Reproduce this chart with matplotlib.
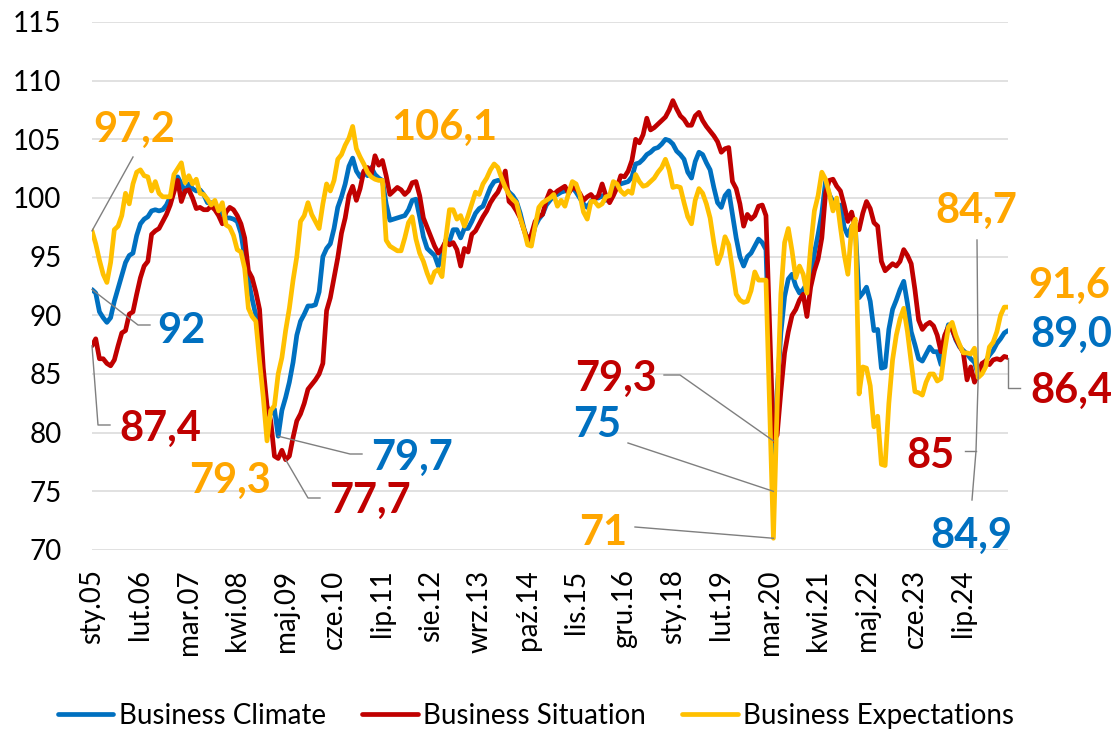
import matplotlib
matplotlib.use("Agg")
import matplotlib.pyplot as plt
from matplotlib.transforms import IdentityTransform
from matplotlib.lines import Line2D

plt.rcParams['font.family'] = ['Lato', 'DejaVu Sans']

# ---------------- data (monthly, Jan 2005 .. Jul 2025) ----------------
climate = [
    92.2, 91.9, 90.3, 89.8, 89.4, 89.8, 91.2, 92.3, 93.4, 94.5,
    95.1, 95.3, 96.8, 97.8, 98.2, 98.4, 98.9, 99.0, 98.9, 99.0,
    99.4, 100.1, 100.8, 101.8, 101.2, 100.5, 101.2, 100.8, 100.6, 100.7,
    100.3, 99.6, 99.6, 99.3, 98.9, 98.6, 98.3, 98.3, 98.2, 98.0,
    97.0, 95.0, 93.0, 91.4, 90.0, 87.0, 84.5, 82.0, 81.6, 82.0,
    79.7, 81.9, 83.0, 84.3, 86.0, 88.3, 89.5, 90.1, 90.8, 90.8,
    90.9, 92.0, 95.0, 95.7, 96.1, 97.4, 99.2, 100.1, 101.2, 102.7,
    103.4, 102.3, 101.8, 102.2, 101.9, 102.6, 102.0, 101.7, 101.5, 99.5,
    98.1, 98.2, 98.3, 98.4, 98.5, 99.0, 99.8, 99.9, 98.4, 96.7,
    95.7, 95.4, 95.1, 94.2, 95.2, 96.4, 96.3, 97.3, 97.3, 96.6,
    97.4, 97.4, 98.0, 98.7, 99.1, 99.3, 100.1, 100.9, 101.4, 101.5,
    101.5, 101.0, 100.5, 100.2, 99.7, 98.7, 97.4, 96.4, 96.3, 97.6,
    98.2, 98.6, 99.4, 99.8, 100.2, 100.3, 100.5, 100.6, 100.6, 100.9,
    100.5, 100.0, 99.5, 99.2, 99.7, 100.0, 100.0, 100.2, 99.8, 100.2,
    100.7, 101.0, 101.2, 101.3, 101.4, 101.8, 102.9, 103.0, 103.3, 103.7,
    103.9, 104.2, 104.3, 104.6, 105.0, 104.9, 104.6, 104.0, 103.7, 103.3,
    102.2, 101.7, 103.1, 103.9, 103.7, 103.0, 102.4, 100.9, 99.6, 99.2,
    100.2, 100.6, 98.6, 96.6, 95.0, 94.2, 95.0, 95.3, 95.9, 96.5,
    96.2, 95.6, 85.5, 75.0, 83.5, 88.5, 91.6, 93.1, 93.5, 92.5,
    91.9, 92.2, 92.7, 93.2, 95.3, 96.9, 98.7, 101.4, 100.3, 99.7,
    99.2, 99.4, 97.5, 96.8, 97.6, 97.5, 91.5, 91.9, 92.4, 91.2,
    88.7, 88.8, 85.5, 85.6, 88.8, 90.5, 91.3, 92.2, 92.9, 91.0,
    88.6, 87.5, 86.3, 86.1, 86.7, 87.3, 86.9, 86.9, 85.8, 88.0,
    89.2, 88.8, 87.9, 87.3, 87.0, 86.7, 86.3, 86.0, 84.9, 85.4,
    86.1, 86.6, 87.0, 87.6, 88.0, 88.5, 88.7,
]

situation = [
    87.4, 88.0, 86.3, 86.3, 85.9, 85.7, 86.2, 87.4, 88.5, 88.7,
    90.1, 90.3, 91.8, 93.2, 94.2, 94.6, 96.9, 97.2, 97.4, 98.0,
    98.6, 99.4, 100.5, 101.5, 99.7, 100.6, 100.7, 100.0, 99.1, 99.2,
    99.0, 99.0, 99.3, 99.0, 98.5, 97.8, 98.8, 99.2, 99.0, 98.5,
    97.8, 96.6, 93.8, 93.2, 92.0, 90.5, 85.5, 82.3, 81.0, 78.0,
    77.8, 78.5, 77.7, 78.0, 79.6, 81.0, 81.6, 82.5, 83.7, 84.1,
    84.5, 85.0, 85.9, 90.4, 91.5, 93.2, 94.9, 97.0, 98.3, 100.2,
    101.0, 99.8, 100.8, 102.3, 102.6, 102.0, 103.6, 102.8, 103.2, 101.9,
    100.3, 100.6, 100.9, 100.7, 100.3, 100.6, 101.3, 101.4, 100.2, 98.3,
    97.5, 96.7, 95.9, 95.3, 95.7, 96.3, 96.0, 96.2, 95.6, 94.2,
    95.7, 95.4, 96.9, 97.2, 97.8, 98.4, 98.9, 99.6, 100.1, 100.5,
    101.2, 102.3, 99.7, 99.4, 98.9, 98.3, 97.3, 96.4, 96.9, 98.0,
    98.4, 98.6, 99.8, 100.6, 100.3, 100.6, 100.8, 101.0, 100.4, 100.9,
    100.8, 100.4, 99.8, 100.1, 100.3, 99.9, 100.2, 101.2, 100.2, 99.6,
    100.2, 100.9, 101.9, 101.8, 102.3, 103.2, 105.0, 104.7, 105.4, 106.8,
    105.8, 106.0, 106.3, 106.6, 106.9, 107.5, 108.3, 107.6, 107.0, 106.7,
    106.2, 106.2, 107.0, 107.3, 106.6, 106.1, 105.7, 105.3, 104.8, 103.9,
    104.2, 104.3, 101.4, 100.8, 99.5, 97.6, 98.6, 98.2, 98.5, 99.3,
    99.4, 98.5, 89.0, 79.3, 79.8, 83.5, 86.8, 88.6, 90.0, 90.5,
    91.3, 91.8, 89.9, 92.4, 93.8, 94.8, 96.6, 100.4, 101.5, 101.6,
    101.0, 100.6, 99.4, 98.0, 98.8, 97.4, 97.3, 98.7, 99.7, 99.1,
    97.9, 97.6, 94.6, 93.8, 94.1, 94.4, 94.2, 94.6, 95.6, 95.1,
    94.4, 92.2, 89.6, 88.8, 89.2, 89.4, 89.1, 88.3, 86.9, 88.3,
    89.0, 88.8, 88.0, 87.4, 86.8, 84.5, 85.6, 84.3, 85.0, 85.9,
    86.1, 85.8, 86.2, 86.3, 86.2, 86.5, 86.4,
]

expectations = [
    97.2, 96.1, 94.7, 93.5, 92.8, 94.5, 97.3, 97.6, 98.5, 100.4,
    99.5, 101.2, 102.2, 102.4, 101.9, 101.8, 100.6, 101.4, 100.4, 100.1,
    100.1, 100.1, 102.0, 102.5, 103.0, 101.3, 101.9, 101.2, 101.6, 100.4,
    100.3, 99.9, 99.4, 99.8, 98.9, 99.6, 97.7, 97.5, 96.8, 95.6,
    95.4, 94.0, 90.6, 89.9, 89.5, 86.1, 83.0, 79.3, 81.9, 82.3,
    85.0, 86.4, 88.7, 90.6, 93.0, 95.0, 98.0, 98.5, 99.6, 98.6,
    98.0, 97.4, 99.5, 101.2, 100.6, 101.5, 103.3, 103.7, 104.5, 105.1,
    106.1, 104.2, 103.5, 102.9, 102.2, 101.8, 101.6, 101.5, 101.5, 96.4,
    95.9, 95.7, 95.5, 95.5, 96.6, 97.9, 98.4, 96.5, 95.3, 94.6,
    93.6, 92.8, 93.7, 93.9, 93.3, 96.5, 99.0, 99.0, 98.2, 98.5,
    97.6, 98.5, 99.5, 100.5, 100.3, 101.2, 101.7, 102.4, 102.9, 102.6,
    101.7, 100.9, 100.3, 99.9, 99.6, 98.3, 97.3, 96.0, 95.9, 97.6,
    99.2, 99.6, 99.8, 100.0, 100.3, 99.3, 99.8, 99.3, 100.4, 101.4,
    101.2, 100.3, 98.8, 98.2, 99.7, 99.7, 99.3, 99.5, 100.1, 100.2,
    101.4, 101.2, 100.6, 100.3, 100.6, 100.4, 102.0, 101.4, 101.0, 101.1,
    101.4, 101.7, 102.2, 102.6, 103.3, 102.4, 100.9, 101.0, 100.9, 99.6,
    98.4, 97.8, 99.8, 100.8, 100.4, 99.5, 98.3, 96.2, 94.4, 95.2,
    96.7, 96.0, 93.9, 91.8, 91.3, 91.1, 91.2, 92.1, 93.7, 93.0,
    93.0, 93.0, 82.0, 71.0, 82.3, 91.8, 96.2, 97.4, 95.5, 93.2,
    94.2, 93.5, 91.9, 95.8, 98.9, 100.2, 102.2, 101.6, 100.4, 98.9,
    100.0, 97.5, 95.2, 93.5, 97.5, 98.2, 83.3, 85.6, 85.5, 84.0,
    80.5, 81.4, 77.3, 77.2, 82.5, 86.2, 88.3, 89.7, 90.6, 88.6,
    86.0, 83.5, 83.4, 83.2, 84.3, 85.0, 85.0, 84.4, 84.6, 87.0,
    89.0, 89.4, 88.3, 87.5, 86.8, 86.8, 86.7, 87.2, 84.7, 85.0,
    85.6, 87.3, 87.7, 88.6, 90.0, 90.7, 90.7,
]

tick_labels = ["sty.05", "lut.06", "mar.07", "kwi.08", "maj.09", "cze.10",
               "lip.11", "sie.12", "wrz.13", "paź.14", "lis.15", "gru.16",
               "sty.18", "lut.19", "mar.20", "kwi.21", "maj.22", "cze.23",
               "lip.24"]
series_names = ["Business Climate", "Business Situation", "Business Expectations"]
colors = ["#0070C0", "#C00000", "#FFC000"]
label_colors = ["#0070C0", "#C00000", "#FFA600"]

# ---------------- figure ----------------
W, H = 1117, 731
fig = plt.figure(figsize=(W / 100, H / 100), dpi=100)
L, R, T, B = 92, 1008, 22, 550
ax = fig.add_axes([L / W, 1 - B / H, (R - L) / W, (B - T) / H])

x = list(range(len(climate)))
for data, c, name in zip([climate, situation, expectations], colors, series_names):
    ax.plot(x, data, color=c, lw=3.4, label=name, solid_joinstyle='round',
            solid_capstyle='round')

ax.set_xlim(0, len(climate) - 1)
ax.set_ylim(70, 115)
ax.set_yticks(range(70, 116, 5))
ax.set_xticks(range(0, len(climate), 13))
ax.set_xticklabels(tick_labels, rotation=90, fontsize=20)
ax.tick_params(axis='y', labelsize=20, length=0, pad=22)
ax.tick_params(axis='x', length=0, pad=14)
for s in ax.spines.values():
    s.set_visible(False)
ax.yaxis.grid(True, color='#D9D9D9', lw=1.1)
ax.set_axisbelow(True)

fig.legend(loc='center', bbox_to_anchor=(536 / W, 1 - 716 / H), ncol=3,
           frameon=False, fontsize=20, handlelength=2.0, handletextpad=0.2,
           columnspacing=1.3)

# ---------------- annotations ----------------
ident = IdentityTransform()


def px(xp, yp):
    return (xp, H - yp)


def dpt(i, series):
    return tuple(ax.transData.transform((i, series[i])))


def label(text, cx, base, col):
    fig.text(cx, H - base, text, transform=ident, ha='center', va='baseline',
             fontsize=30, fontweight='bold', color=col)


def leader(points):
    xs = [p[0] for p in points]
    ys = [p[1] for p in points]
    fig.add_artist(Line2D(xs, ys, transform=ident, color='#7F7F7F', lw=1.0))


cb, cr, cy = label_colors

label("97,2", 134, 142, cy)
leader([dpt(0, expectations), px(133, 157)])
label("92", 181, 343, cb)
leader([dpt(0, climate), px(138, 325), px(150, 325)])
label("87,4", 160, 441, cr)
leader([dpt(0, situation), px(98, 425), px(110, 425)])

label("79,3", 230, 493, cy)
label("79,7", 412, 470, cb)
leader([dpt(50, climate), px(350, 454), px(362, 454)])
label("77,7", 370, 513, cr)
leader([dpt(52, situation), px(308, 498), px(320, 498)])

label("106,1", 444, 140, cy)

label("79,3", 616, 391, cr)
leader([px(664, 375), px(680, 375), dpt(183, situation)])
label("75", 597, 437, cb)
leader([px(628, 443), dpt(183, climate)])
label("71", 603, 545, cy)
leader([px(635, 527), dpt(183, expectations)])

label("84,7", 976, 223, cy)
leader([px(977, 240), dpt(238, expectations)])
label("85", 930, 468, cr)
leader([px(965, 451), px(976, 451)])
label("84,9", 971, 548, cb)
leader([px(972, 500), px(976, 451), dpt(238, expectations)])

label("91,6", 1069, 298, cy)
label("89,0", 1071, 347, cb)
label("86,4", 1071, 403, cr)
leader([dpt(246, situation), px(1008, 388), px(1020, 388)])

fig.savefig("out.png", dpi=100)
